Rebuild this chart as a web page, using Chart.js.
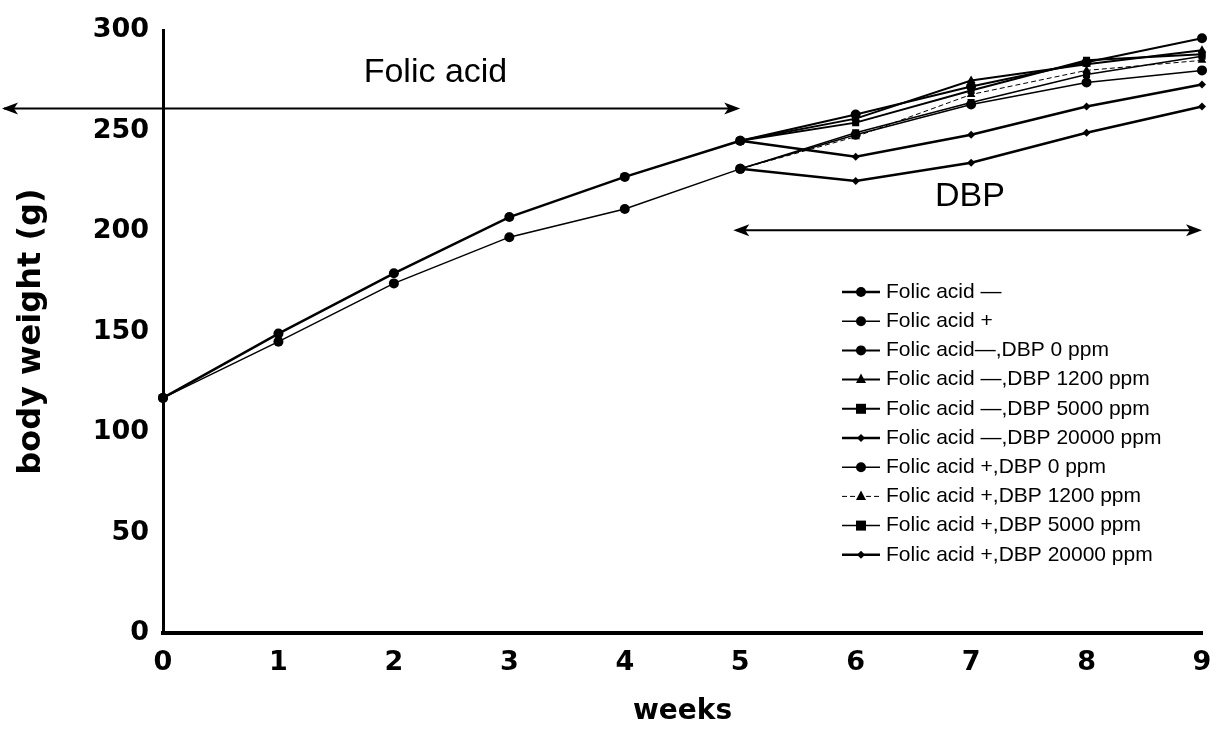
<!DOCTYPE html>
<html>
<head>
<meta charset="utf-8">
<script src="https://cdn.jsdelivr.net/npm/chart.js@4/dist/chart.umd.min.js"></script>
<style>
	body { margin: 0; background: #fff; }
	canvas { display: block; }
</style>
</head>
<body>
<canvas id="WeightChart" width="1232" height="729"></canvas>
<script>
// weeks on the x axis
var weeks = ['0', '1', '2', '3', '4', '5', '6', '7', '8', '9'];
var yTicks = [0, 50, 100, 150, 200, 250, 300];

// folic acid phase (weeks 0-5)
var faMinus = [117, 149, 179, 207, 227, 245, null, null, null, null];
var faPlus  = [117, 145, 174, 197, 211, 231, null, null, null, null];

// DBP phase (weeks 5-9)
var faMinusDbp0     = [null, null, null, null, null, 245, 258, 272, 284, 296];
var faMinusDbp1200  = [null, null, null, null, null, 245, 256, 275, 283, 290];
var faMinusDbp5000  = [null, null, null, null, null, 245, 254, 270, 285, 288];
var faMinusDbp20000 = [null, null, null, null, null, 245, 237, 248, 262, 273];
var faPlusDbp0      = [null, null, null, null, null, 231, 248, 263, 274, 280];
var faPlusDbp1200   = [null, null, null, null, null, 231, 247, 268, 280, 285];
var faPlusDbp5000   = [null, null, null, null, null, 231, 249, 264, 278, 287];
var faPlusDbp20000  = [null, null, null, null, null, 231, 225, 234, 249, 262];

function series(label, data, style, radius, width, dash) {
	return {
		label: label,
		data: data,
		borderColor: '#000',
		backgroundColor: '#000',
		borderWidth: width,
		borderDash: dash || [],
		pointStyle: style,
		pointRadius: radius,
		pointHoverRadius: radius,
		pointBorderWidth: 0,
		pointBackgroundColor: '#000',
		tension: 0,
		spanGaps: false
	};
}

var datasets = [
	series('Folic acid \u2014', faMinus, 'circle', 5, 2.5),
	series('Folic acid +', faPlus, 'circle', 5, 1.5),
	series('Folic acid\u2014,DBP 0 ppm', faMinusDbp0, 'circle', 5, 2),
	series('Folic acid \u2014,DBP 1200 ppm', faMinusDbp1200, 'triangle', 5, 2),
	series('Folic acid \u2014,DBP 5000 ppm', faMinusDbp5000, 'rect', 5, 2),
	series('Folic acid \u2014,DBP 20000 ppm', faMinusDbp20000, 'rectRot', 4, 2.5),
	series('Folic acid +,DBP 0 ppm', faPlusDbp0, 'circle', 5, 1.5),
	series('Folic acid +,DBP 1200 ppm', faPlusDbp1200, 'triangle', 5, 1, [5, 3]),
	series('Folic acid +,DBP 5000 ppm', faPlusDbp5000, 'rect', 5, 1.5),
	series('Folic acid +,DBP 20000 ppm', faPlusDbp20000, 'rectRot', 4, 2.5)
];

function marker(ctx, style, r, x, y) {
	ctx.beginPath();
	if (style === 'circle') {
		ctx.arc(x, y, r, 0, Math.PI * 2);
	} else if (style === 'triangle') {
		ctx.moveTo(x, y - r * 1.2);
		ctx.lineTo(x + r, y + r * 0.7);
		ctx.lineTo(x - r, y + r * 0.7);
		ctx.closePath();
	} else if (style === 'rect') {
		ctx.rect(x - r, y - r, r * 2, r * 2);
	} else {
		ctx.moveTo(x, y - r);
		ctx.lineTo(x + r, y);
		ctx.lineTo(x, y + r);
		ctx.lineTo(x - r, y);
		ctx.closePath();
	}
	ctx.fill();
}

function arrowHead(ctx, x, y, dir) {
	ctx.beginPath();
	ctx.moveTo(x, y);
	ctx.lineTo(x - dir * 16, y - 6);
	ctx.lineTo(x - dir * 12, y);
	ctx.lineTo(x - dir * 16, y + 6);
	ctx.closePath();
	ctx.fill();
}

// arrows, phase labels and the legend box
var annotations = {
	id: 'annotations',
	afterDraw: function(chart) {
		var ctx = chart.ctx;
		var x = chart.scales.x;
		var y = chart.scales.y;
		ctx.save();
		ctx.fillStyle = '#000';
		ctx.strokeStyle = '#000';
		ctx.lineWidth = 2;

		// folic acid arrow
		var fy = y.getPixelForValue(261);
		var fx2 = x.getPixelForValue(5);
		ctx.beginPath();
		ctx.moveTo(4, fy);
		ctx.lineTo(fx2 - 4, fy);
		ctx.stroke();
		arrowHead(ctx, 2, fy, -1);
		arrowHead(ctx, fx2, fy, 1);

		// DBP arrow
		var dy = y.getPixelForValue(200.5);
		var dx1 = x.getPixelForValue(4.94);
		var dx2 = x.getPixelForValue(9);
		ctx.beginPath();
		ctx.moveTo(dx1 + 4, dy);
		ctx.lineTo(dx2 - 4, dy);
		ctx.stroke();
		arrowHead(ctx, dx1, dy, -1);
		arrowHead(ctx, dx2, dy, 1);

		ctx.font = '34px "Liberation Sans", Arial, sans-serif';
		ctx.textAlign = 'center';
		ctx.textBaseline = 'middle';
		ctx.fillText('Folic acid', x.getPixelForValue(2.36), y.getPixelForValue(279));
		ctx.fillText('DBP', x.getPixelForValue(6.99), y.getPixelForValue(217));

		// legend
		ctx.font = '21px "Liberation Sans", Arial, sans-serif';
		ctx.textAlign = 'left';
		datasets.forEach(function(ds, i) {
			var ly = 292 + i * 29.2;
			ctx.lineWidth = ds.borderWidth;
			ctx.setLineDash(ds.borderDash);
			ctx.beginPath();
			ctx.moveTo(842, ly);
			ctx.lineTo(880, ly);
			ctx.stroke();
			ctx.setLineDash([]);
			marker(ctx, ds.pointStyle, ds.pointRadius, 861, ly);
			ctx.fillText(ds.label, 886, ly);
		});
		ctx.restore();
	}
};

var ctx = document.getElementById('WeightChart');
var myChart = new Chart(ctx, {
	type: 'line',
	data: {
		labels: weeks,
		datasets: datasets
	},
	options: {
		responsive: false,
		animation: false,
		layout: {
			padding: { top: 29, right: 30, left: 0, bottom: 0 }
		},
		scales: {
			x: {
				offset: false,
				grid: { display: false, drawTicks: false },
				border: { display: true, color: '#000', width: 4 },
				ticks: {
					color: '#000',
					padding: 14,
					maxRotation: 0,
					font: { family: '"DejaVu Sans"', weight: 'bold', size: 27 }
				},
				title: {
					display: true,
					text: 'weeks',
					color: '#000',
					padding: { top: 4, bottom: 0 },
					font: { family: '"DejaVu Sans"', weight: 'bold', size: 28 }
				},
				afterFit: function(scale) { scale.height = 96; }
			},
			y: {
				min: 0,
				max: 300,
				afterBuildTicks: function(scale) {
					scale.ticks = yTicks.map(function(v) { return { value: v }; });
				},
				grid: { display: false, drawTicks: false },
				border: { display: true, color: '#000', width: 3 },
				ticks: {
					color: '#000',
					padding: 14,
					font: { family: '"DejaVu Sans"', weight: 'bold', size: 27 }
				},
				title: {
					display: true,
					text: 'body weight (g)',
					color: '#000',
					padding: { top: 12, bottom: 0 },
					font: { family: '"DejaVu Sans"', weight: 'bold', size: 32 }
				},
				afterFit: function(scale) { scale.width = 163; }
			}
		},
		plugins: {
			legend: { display: false },
			tooltip: { enabled: false }
		}
	},
	plugins: [annotations]
});
</script>
</body>
</html>
